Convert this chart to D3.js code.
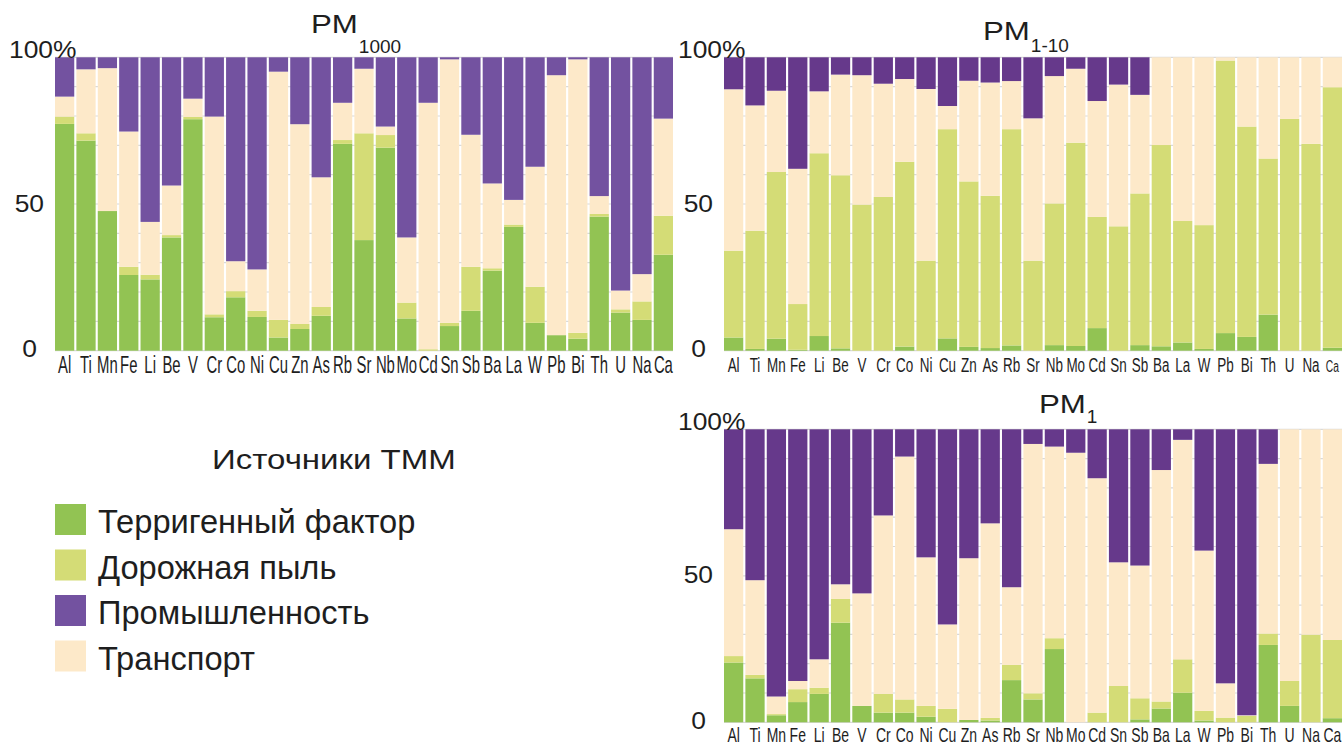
<!DOCTYPE html>
<html><head><meta charset="utf-8">
<script src="https://cdn.jsdelivr.net/npm/d3@7"></script>
<style>
body{margin:0;background:#fff}
svg{display:block}
text{font-family:"Liberation Sans",Arial,Helvetica,sans-serif;fill:#1e1e1e}
</style>
</head><body>
<svg id="c" width="1344" height="747"></svg>
<script>
// ---------- DATA ----------
const elements = ["Al","Ti","Mn","Fe","Li","Be","V","Cr","Co","Ni","Cu","Zn","As","Rb","Sr","Nb","Mo","Cd","Sn","Sb","Ba","La","W","Pb","Bi","Th","U","Na","Ca"];
const seriesKeys = ["terr","road","transport","industry"];
const seriesNames = {terr:"Терригенный фактор", road:"Дорожная пыль", industry:"Промышленность", transport:"Транспорт"};
const legendOrder = ["terr","road","industry","transport"];
const legendTitle = "Источники ТММ";
const yTicks = [0, 50, 100];

// PM1000 (%)
const pm1000_terr      = [77.3,71.6,47.6,25.8,24.3,38.6,78.9,11.4,18.2,11.5,4.5,7.4,11.9,70.5,37.7,69.2,11.0,0,8.4,13.6,27.3,42.2,9.5,5.3,4.1,45.7,13.0,10.5,32.7];
const pm1000_road      = [2.5,2.5,0,2.8,1.6,0.8,0.8,1.0,2.1,2.1,6.0,1.7,3.0,1.3,36.4,4.3,5.4,0.5,1.1,15.0,0.8,0.8,12.3,0,2.0,0.9,1.1,6.3,13.3];
const pm1000_transport = [6.8,21.8,48.7,46.1,18.0,16.9,6.2,67.4,10.2,14.1,84.6,68.1,44.2,12.7,22.0,2.9,22.2,84.0,89.8,45.0,28.9,8.4,40.9,88.6,93.2,6.1,6.4,9.3,33.1];
const pm1000_industry  = [13.4,4.1,3.7,25.3,56.1,43.7,14.1,20.2,69.5,72.3,4.9,22.8,40.9,15.5,3.9,23.6,61.4,15.5,0.7,26.4,43.0,48.6,37.3,6.1,0.7,47.3,79.5,73.9,20.9];

// PM1-10 (%)
const pm110_terr      = [4.5,0.6,4.1,0.3,5.0,0.8,0,0,1.4,0,4.2,1.3,0.9,1.8,0,1.9,1.6,7.7,0,1.9,1.5,2.8,0.6,6.0,4.7,12.3,0,0,1.0];
const pm110_road      = [29.6,40.3,56.8,15.6,62.3,59.0,49.8,52.4,63.0,30.7,71.3,56.4,51.9,73.7,30.7,48.3,69.3,37.9,42.4,51.7,68.6,41.4,42.2,92.9,71.7,53.2,79.0,70.5,88.8];
const pm110_transport = [55.0,42.7,27.7,46.1,21.1,34.3,44.1,38.6,28.2,58.5,7.9,34.3,38.6,16.4,48.5,43.4,25.2,39.5,48.3,33.6,29.9,55.8,57.2,1.1,23.6,34.5,21.0,29.5,10.2];
const pm110_industry  = [10.9,16.4,11.4,38.0,11.6,5.9,6.1,9.0,7.4,10.8,16.6,8.0,8.6,8.1,20.8,6.4,3.9,14.9,9.3,12.8,0,0,0,0,0,0,0,0,0];

// PM1 (%)
const pm1_terr      = [20.4,15.0,2.4,6.9,9.7,34.0,5.6,3.3,3.3,1.9,0,0.8,0.6,14.4,7.8,25.0,0,0,0,1.0,4.7,10.1,0.6,0,0,26.4,5.6,0,1.4];
const pm1_road      = [2.2,1.2,0.4,4.4,2.1,8.1,0,6.4,4.5,3.7,4.6,0,0.9,5.2,2.1,3.7,0,3.3,12.4,7.2,2.4,11.4,3.3,1.6,2.2,3.9,8.5,29.9,26.7];
const pm1_transport = [43.3,32.3,6.0,2.8,9.7,5.0,38.4,60.9,82.9,50.7,28.8,55.2,66.4,26.5,85.1,65.4,92.0,80.0,42.2,45.3,79.0,74.9,54.7,11.7,0.2,57.9,85.9,70.1,71.9];
const pm1_industry  = [34.1,51.5,91.2,85.9,78.5,52.9,56.0,29.4,9.3,43.7,66.6,44.0,32.1,53.9,5.0,5.9,8.0,16.7,45.4,46.5,13.9,3.6,41.4,86.7,97.6,11.8,0,0,0];

// ---------- STYLE / LAYOUT ----------
const baseColors = {terr:"#92c353", road:"#d4dc76", transport:"#fde9c9"};
const panels = [
  {title:"PM", sub:"1000", terr:pm1000_terr, road:pm1000_road, transport:pm1000_transport, industry:pm1000_industry,
   left:55, right:673, top:57.3, bottom:350.7, purple:"#7352a0",
   tX:311, tBase:33.3, sBase:53.3, labSize:24, labSx:0.62, labOff:22},
  {title:"PM", sub:"1-10", terr:pm110_terr, road:pm110_road, transport:pm110_transport, industry:pm110_industry,
   left:724, right:1342, top:57.3, bottom:350.7, purple:"#66398b",
   tX:983, tBase:40, sBase:52, labSize:21, labSx:0.64, labOff:21, smallLast:true},
  {title:"PM", sub:"1", terr:pm1_terr, road:pm1_road, transport:pm1_transport, industry:pm1_industry,
   left:724, right:1342, top:429.3, bottom:722.3, purple:"#66398b",
   tX:1039, tBase:412.7, sBase:423.3, labSize:20, labSx:0.7, labOff:19.5}
];

const svg = d3.select("#c");

function addText(parent, x, y, str, size, sx, anchor){
  return parent.append("text")
    .attr("transform", `translate(${x},${y}) scale(${sx},1)`)
    .attr("text-anchor", anchor || "start")
    .style("font-size", size + "px")
    .text(str);
}

panels.forEach(p => {
  const rows = elements.map((e,i) => ({el:e, terr:p.terr[i], road:p.road[i], transport:p.transport[i], industry:p.industry[i]}));
  const stacked = d3.stack().keys(seriesKeys)(rows);
  const x = d3.scaleBand().domain(elements).range([p.left, p.right]).paddingInner(0.1).paddingOuter(0);
  const y = d3.scaleLinear().domain([0,100]).range([p.bottom, p.top]);
  const color = k => k === "industry" ? p.purple : baseColors[k];

  const g = svg.append("g");
  // grid
  g.append("g").selectAll("line").data(y.ticks(10)).join("line")
    .attr("x1", p.left).attr("x2", p.right)
    .attr("y1", d => y(d)).attr("y2", d => y(d))
    .attr("stroke", "#d9d9d9").attr("stroke-width", 1.2);
  // bars
  g.append("g").selectAll("g").data(stacked).join("g")
    .attr("fill", s => color(s.key))
    .selectAll("rect").data(s => s).join("rect")
    .attr("x", d => x(d.data.el))
    .attr("width", x.bandwidth())
    .attr("y", d => y(d[1]))
    .attr("height", d => Math.max(0, y(d[0]) - y(d[1])));

  // x axis labels
  const xa = g.append("g").attr("transform", `translate(0,${p.bottom})`)
    .call(d3.axisBottom(x).tickSize(0));
  xa.select(".domain").remove();
  xa.selectAll("text")
    .attr("y", 0).attr("dy", 0).attr("fill", "#1e1e1e")
    .attr("font-family", null).attr("font-size", null)
    .style("font-size", (d,i) => (p.smallLast && i === elements.length-1 ? 16 : p.labSize) + "px")
    .attr("transform", `translate(0,${p.labOff}) scale(${p.labSx},1)`);

  // y axis labels
  const ya = g.append("g").attr("transform", `translate(${p.left},0)`)
    .call(d3.axisLeft(y).tickValues(yTicks).tickSize(0).tickFormat(d => d === 100 ? "100%" : d));
  ya.select(".domain").remove();
  ya.selectAll("text")
    .attr("x", 0).attr("dy", 0).attr("fill", "#1e1e1e")
    .attr("font-family", null).attr("font-size", null)
    .style("font-size", "24px")
    .attr("text-anchor", d => d === 100 ? "start" : "end")
    .attr("transform", d => d === 100 ? "translate(-46,0) scale(1.1,1)"
                               : d === 50 ? "translate(-11,7) scale(1.1,1)"
                               : "translate(-18,6) scale(1.1,1)");

  // title
  const t = addText(svg, p.tX, p.tBase, p.title, 25, 1.25, "start");
  const w = t.node().getComputedTextLength() * 1.25;
  addText(svg, p.tX + w + 1, p.sBase, p.sub, 19, 1.0, "start");
});

// legend
addText(svg, 212, 469, legendTitle, 28, 1.18, "start");
const legG = svg.append("g");
legendOrder.forEach((k,i) => {
  const yTop = 504 + i*45.5;
  legG.append("rect").attr("x", 55).attr("y", yTop).attr("width", 31).attr("height", 31)
    .attr("fill", k === "industry" ? panels[0].purple : baseColors[k]);
  addText(legG, 98, yTop + 29, seriesNames[k], 34, 0.96, "start");
});
</script>
</body></html>
